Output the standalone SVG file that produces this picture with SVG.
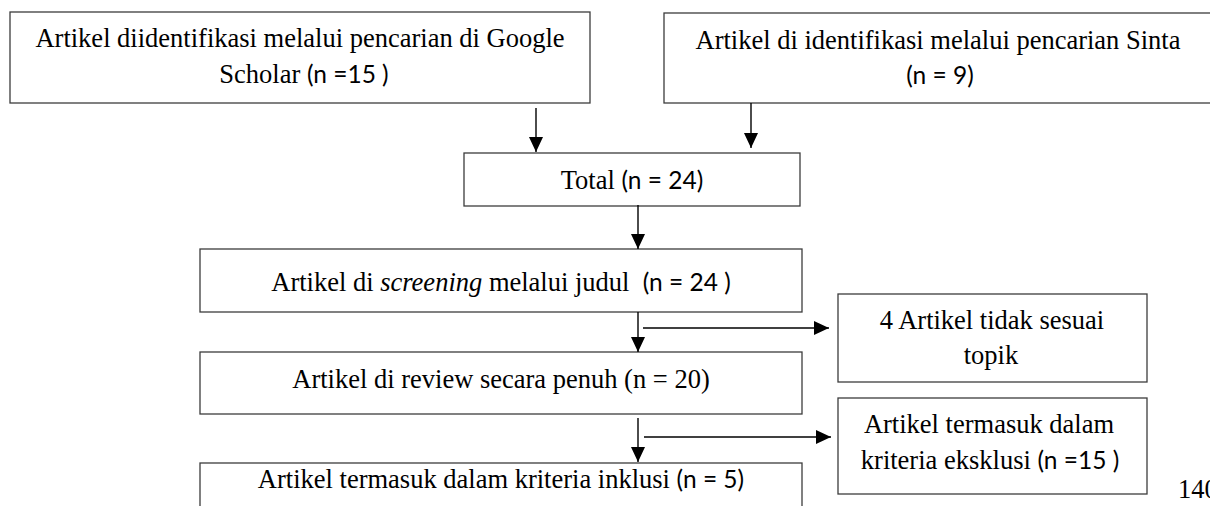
<svg xmlns="http://www.w3.org/2000/svg" width="1210" height="506" viewBox="0 0 1210 506">
  <defs>
    <style>
      .box { fill: #ffffff; stroke: #3c3c3c; stroke-width: 1.3; }
      .t { font-family: "Liberation Serif", "Times New Roman", serif; font-size: 26.5px; fill: #000; text-anchor: middle; }
      .s { font-family: Lato, "Open Sans", sans-serif; font-size: 24.5px; }
      .link { stroke: #000; stroke-width: 1.4; fill: none; marker-end: url(#head); }
    </style>
    <marker id="head" markerUnits="userSpaceOnUse" markerWidth="15" markerHeight="14" refX="15" refY="7" orient="auto">
      <path d="M0,0 L15,7 L0,14 z" fill="#000"/>
    </marker>
  </defs>
  <rect width="1210" height="506" fill="#ffffff"/>

  <!-- source: Google Scholar -->
  <g id="node-scholar">
    <rect class="box" x="10" y="12" width="580" height="91"/>
    <text class="t" x="300" y="47">Artikel diidentifikasi melalui pencarian di Google</text>
    <text class="t" x="304" y="83">Scholar <tspan class="s">(n =15 )</tspan></text>
  </g>

  <!-- source: Sinta -->
  <g id="node-sinta">
    <rect class="box" x="664" y="13" width="560" height="90"/>
    <text class="t" x="938" y="49">Artikel di identifikasi melalui pencarian Sinta</text>
    <text class="t s" x="940" y="84">(n = 9)</text>
  </g>

  <!-- combined total -->
  <g id="node-total">
    <rect class="box" x="464" y="153" width="336" height="53"/>
    <text class="t" x="632" y="189">Total <tspan class="s">(n = 24)</tspan></text>
  </g>

  <!-- title screening -->
  <g id="node-screening">
    <rect class="box" x="200" y="249" width="602" height="63"/>
    <text class="t" x="501" y="291" style="white-space:pre">Artikel di <tspan font-style="italic">screening</tspan> melalui judul  <tspan class="s">(n = 24 )</tspan></text>
  </g>

  <!-- off-topic exclusion -->
  <g id="node-offtopic">
    <rect class="box" x="838" y="294" width="309" height="88"/>
    <text class="t" x="992" y="329">4 Artikel tidak sesuai</text>
    <text class="t" x="991" y="364">topik</text>
  </g>

  <!-- full review -->
  <g id="node-review">
    <rect class="box" x="200" y="352" width="602" height="62"/>
    <text class="t" x="501" y="388">Artikel di review secara penuh (n = 20)</text>
  </g>

  <!-- exclusion criteria -->
  <g id="node-exclusion">
    <rect class="box" x="838" y="398" width="309" height="96"/>
    <text class="t" x="989" y="433">Artikel termasuk dalam</text>
    <text class="t" x="990" y="469">kriteria eksklusi <tspan class="s">(n =15 )</tspan></text>
  </g>

  <!-- inclusion criteria -->
  <g id="node-inclusion">
    <rect class="box" x="200" y="463" width="602" height="60"/>
    <text class="t" x="501" y="488">Artikel termasuk dalam kriteria inklusi <tspan class="s">(n = 5)</tspan></text>
  </g>

  <!-- page number -->
  <text class="t" x="1178" y="498" style="text-anchor:start">140</text>

  <!-- connectors -->
  <g id="connectors">
    <line class="link" x1="536" y1="108" x2="536" y2="152"/>
    <line class="link" x1="751" y1="103" x2="751" y2="148"/>
    <line class="link" x1="638" y1="205" x2="638" y2="249"/>
    <line class="link" x1="638" y1="312" x2="638" y2="352"/>
    <line class="link" x1="643" y1="328" x2="829" y2="328"/>
    <line class="link" x1="638" y1="418" x2="638" y2="462"/>
    <line class="link" x1="644" y1="437" x2="831" y2="437"/>
  </g>
</svg>
